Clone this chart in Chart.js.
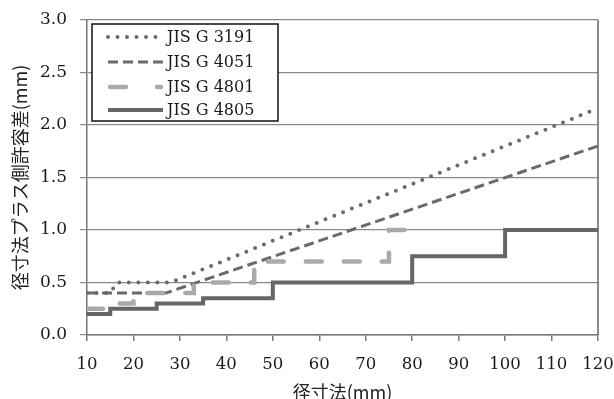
<!DOCTYPE html>
<html>
<head>
<meta charset="utf-8">
<script src="https://cdn.jsdelivr.net/npm/chart.js@4.4.1/dist/chart.umd.min.js"></script>
<style>
html, body { margin: 0; padding: 0; background: #fff; }
#wrap { width: 614px; height: 399px; }
</style>
</head>
<body>
<div id="wrap"><canvas id="chart" width="614" height="399"></canvas></div>
<script>
// series names
const seriesNames = ['JIS G 3191', 'JIS G 4051', 'JIS G 4801', 'JIS G 4805'];

// diameter (mm) / plus side tolerance (mm)
const g3191X = [10, 15, 16.5, 28, 120];
const g3191Y = [0.4, 0.4, 0.5, 0.5, 2.16];

const g4051X = [10, 27, 120];
const g4051Y = [0.4, 0.4, 1.8];

// step series: each value holds until the next x
const g4801X = [10, 15, 20, 33, 46, 75, 80];
const g4801Y = [0.25, 0.3, 0.4, 0.5, 0.7, 1.0, 1.0];

const g4805X = [10, 15, 25, 35, 50, 80, 100, 120];
const g4805Y = [0.2, 0.25, 0.3, 0.35, 0.5, 0.75, 1.0, 1.0];

const xTicks = [10, 20, 30, 40, 50, 60, 70, 80, 90, 100, 110, 120];
const yTicks = [0, 0.5, 1.0, 1.5, 2.0, 2.5, 3.0];

function toPoints(xs, ys) {
  return xs.map((x, i) => ({ x: x, y: ys[i] }));
}

const serif = 'DejaVu Serif';

const styles = [
  { color: '#6b6b6b', width: 4, dash: [0, 9.5], cap: 'round', stepped: false },
  { color: '#6a6a6a', width: 3, dash: [10, 5], cap: 'butt', stepped: false },
  { color: '#a9a9a9', width: 4.5, dash: [16, 22], cap: 'round', stepped: true },
  { color: '#666666', width: 4, dash: [], cap: 'butt', stepped: true }
];

const allPoints = [
  toPoints(g3191X, g3191Y),
  toPoints(g4051X, g4051Y),
  toPoints(g4801X, g4801Y),
  toPoints(g4805X, g4805Y)
];

// legend box and right edge of the frame
const boxPlugin = {
  id: 'boxPlugin',
  afterDatasetsDraw(chart) {
    const ctx = chart.ctx;
    const a = chart.chartArea;
    ctx.save();
    ctx.strokeStyle = '#666';
    ctx.lineWidth = 1.5;
    ctx.beginPath();
    ctx.moveTo(a.right, a.top);
    ctx.lineTo(a.right, a.bottom);
    ctx.stroke();

    const bx = 92, by = 24, bw = 186, bh = 97;
    ctx.fillStyle = '#fff';
    ctx.fillRect(bx, by, bw, bh);
    ctx.strokeStyle = '#111';
    ctx.lineWidth = 1.5;
    ctx.strokeRect(bx, by, bw, bh);

    const rows = [37, 62, 87, 110];
    seriesNames.forEach((name, i) => {
      const s = styles[i];
      ctx.strokeStyle = s.color;
      ctx.lineWidth = s.width;
      ctx.lineCap = s.cap;
      ctx.setLineDash(s.dash);
      ctx.beginPath();
      if (i === 2) {
        ctx.moveTo(110, rows[i]);
        ctx.lineTo(161, rows[i]);
        ctx.setLineDash([16, 31]);
      } else {
        ctx.moveTo(108, rows[i]);
        ctx.lineTo(163, rows[i]);
      }
      ctx.stroke();
      ctx.setLineDash([]);
      ctx.fillStyle = '#1a1a1a';
      ctx.font = '16px "' + serif + '"';
      ctx.textBaseline = 'middle';
      ctx.textAlign = 'left';
      ctx.fillText(name, 167, rows[i] + 1);
    });
    ctx.restore();
  }
};

new Chart(document.getElementById('chart'), {
  type: 'line',
  data: {
    datasets: seriesNames.map((name, i) => ({
      label: name,
      data: allPoints[i],
      borderColor: styles[i].color,
      borderWidth: styles[i].width,
      borderDash: styles[i].dash,
      borderCapStyle: styles[i].cap,
      stepped: styles[i].stepped,
      pointRadius: 0,
      fill: false,
      tension: 0,
      order: [3, 2, 1, 4][i]
    }))
  },
  options: {
    responsive: false,
    animation: false,
    devicePixelRatio: 1,
    layout: { padding: { top: 20, right: 16, left: 0, bottom: 0 } },
    plugins: {
      legend: { display: false },
      tooltip: { enabled: false }
    },
    scales: {
      x: {
        type: 'linear',
        min: 10,
        max: 120,
        afterBuildTicks: axis => { axis.ticks = xTicks.map(v => ({ value: v })); },
        afterFit: axis => {
          axis.height = 64;
          axis.paddingLeft = 0;
          axis.paddingRight = 0;
        },
        grid: { drawOnChartArea: false, drawTicks: true, tickLength: 6, color: '#777', lineWidth: 1.5 },
        border: { display: true, color: '#777', width: 1.5 },
        ticks: {
          font: { family: serif, size: 16.5 },
          color: '#1a1a1a',
          padding: 14,
          maxRotation: 0,
          autoSkip: false
        },
        title: {
          display: true,
          text: '径寸法(mm)',
          font: { family: 'Noto Sans CJK JP', size: 18 },
          color: '#222',
          padding: { top: 0, bottom: -4 }
        }
      },
      y: {
        type: 'linear',
        min: 0,
        max: 3,
        afterBuildTicks: axis => { axis.ticks = yTicks.map(v => ({ value: v })); },
        afterFit: axis => {
          axis.width = 87;
          axis.paddingTop = 0;
          axis.paddingBottom = 0;
        },
        grid: { color: '#8a8a8a', lineWidth: 1.2, drawTicks: true, tickLength: 7 },
        border: { display: true, color: '#777', width: 1.5 },
        ticks: {
          font: { family: serif, size: 17 },
          color: '#1a1a1a',
          padding: 13,
          callback: v => v.toFixed(1)
        },
        title: {
          display: true,
          text: '径寸法プラス側許容差(mm)',
          font: { family: 'Noto Sans CJK JP', size: 18 },
          color: '#222',
          padding: { top: 9, bottom: 0 }
        }
      }
    }
  },
  plugins: [boxPlugin]
});
</script>
</body>
</html>
